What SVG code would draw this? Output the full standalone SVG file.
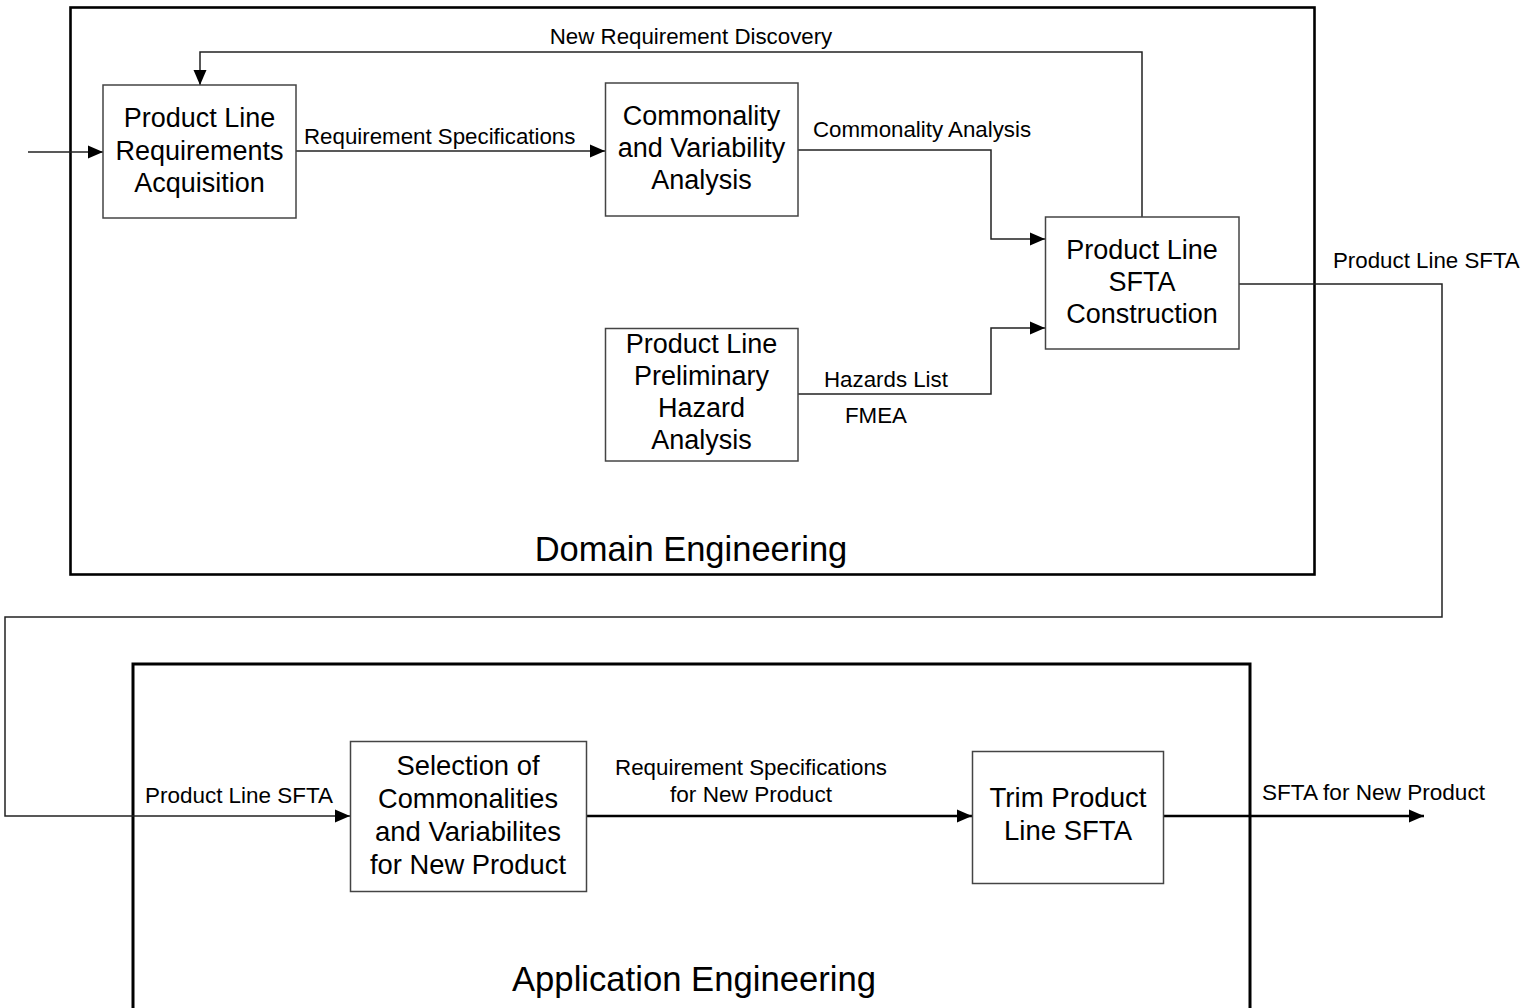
<svg xmlns="http://www.w3.org/2000/svg" width="1528" height="1008" viewBox="0 0 1528 1008">
  <style>
    text { font-family: "Liberation Sans", Arial, sans-serif; fill: #000; }
    .frame { fill: none; stroke: #000; stroke-width: 2.6; }
    .box { fill: #fff; stroke: #444; stroke-width: 1.5; }
    .node { font-size: 27px; text-anchor: middle; }
    .nodeB { font-size: 28px; text-anchor: middle; }
    .lbl { font-size: 22.3px; }
    .lblB { font-size: 22.5px; }
    .title { font-size: 34.5px; text-anchor: middle; }
    .wire { fill: none; stroke: #222; stroke-width: 1.5; }
    .wireB { fill: none; stroke: #000; stroke-width: 2.4; }
  </style>
  <defs>
    <marker id="arr" markerUnits="userSpaceOnUse" markerWidth="15" markerHeight="15" viewBox="0 0 15 15" refX="15" refY="7.5" orient="auto">
      <path d="M0,1 L15,7.5 L0,14 Z" fill="#000"/>
    </marker>
  </defs>

  <rect width="1528" height="1008" fill="#fff"/>

  <!-- lane frames -->
  <g id="domain-frame">
    <rect class="frame" x="70.5" y="7.5" width="1244" height="567"/>
    <text class="title" x="691" y="561">Domain Engineering</text>
  </g>
  <g id="application-frame">
    <rect class="frame" x="133" y="664" width="1117" height="360" style="stroke-width:3"/>
    <text class="title" x="694" y="991" textLength="364" lengthAdjust="spacingAndGlyphs">Application Engineering</text>
  </g>

  <!-- connectors -->
  <g id="connectors">
    <line class="wire" x1="28" y1="152" x2="103" y2="152" marker-end="url(#arr)"/>
    <line class="wire" x1="296" y1="151" x2="605" y2="151" marker-end="url(#arr)"/>
    <text class="lbl" x="304" y="144">Requirement Specifications</text>

    <polyline class="wire" points="1142,217 1142,52 200,52 200,85" marker-end="url(#arr)"/>
    <text class="lbl" x="691" y="44" text-anchor="middle">New Requirement Discovery</text>

    <polyline class="wire" points="798,150 991,150 991,239 1045,239" marker-end="url(#arr)"/>
    <text class="lbl" x="813" y="137">Commonality Analysis</text>

    <polyline class="wire" points="798,394 991,394 991,328 1045,328" marker-end="url(#arr)"/>
    <text class="lbl" x="824" y="387">Hazards List</text>
    <text class="lbl" x="845" y="423">FMEA</text>

    <polyline class="wire" points="1239,284 1442,284 1442,617 5,617 5,816 350,816" marker-end="url(#arr)"/>
    <text class="lbl" x="1333" y="268">Product Line SFTA</text>
    <text class="lblB" x="145" y="803" textLength="188" lengthAdjust="spacingAndGlyphs">Product Line SFTA</text>

    <line class="wireB" x1="586" y1="816" x2="972" y2="816" marker-end="url(#arr)"/>
    <text class="lblB" x="751" y="775" text-anchor="middle" textLength="272" lengthAdjust="spacingAndGlyphs">Requirement Specifications</text>
    <text class="lblB" x="751" y="802" text-anchor="middle" textLength="162" lengthAdjust="spacingAndGlyphs">for New Product</text>

    <line class="wireB" x1="1163" y1="816" x2="1424" y2="816" marker-end="url(#arr)"/>
    <text class="lblB" x="1262" y="800" textLength="223" lengthAdjust="spacingAndGlyphs">SFTA for New Product</text>
  </g>

  <!-- process nodes -->
  <g id="node-requirements-acquisition">
    <rect class="box" x="103" y="85" width="193" height="133"/>
    <text class="node" x="199.5" y="127">Product Line</text>
    <text class="node" x="199.5" y="159.5">Requirements</text>
    <text class="node" x="199.5" y="192">Acquisition</text>
  </g>
  <g id="node-commonality-variability">
    <rect class="box" x="605.5" y="83" width="192.5" height="133"/>
    <text class="node" x="701.5" y="125">Commonality</text>
    <text class="node" x="701.5" y="157">and Variability</text>
    <text class="node" x="701.5" y="189">Analysis</text>
  </g>
  <g id="node-sfta-construction">
    <rect class="box" x="1045.5" y="217" width="193.5" height="132"/>
    <text class="node" x="1142" y="259">Product Line</text>
    <text class="node" x="1142" y="291">SFTA</text>
    <text class="node" x="1142" y="323">Construction</text>
  </g>
  <g id="node-hazard-analysis">
    <rect class="box" x="605.5" y="328.5" width="192.5" height="132.5"/>
    <text class="node" x="701.5" y="353">Product Line</text>
    <text class="node" x="701.5" y="385">Preliminary</text>
    <text class="node" x="701.5" y="417">Hazard</text>
    <text class="node" x="701.5" y="449">Analysis</text>
  </g>
  <g id="node-selection">
    <rect class="box" x="350.5" y="741.5" width="236" height="150"/>
    <text class="nodeB" x="468" y="775" textLength="143" lengthAdjust="spacingAndGlyphs">Selection of</text>
    <text class="nodeB" x="468" y="808" textLength="180" lengthAdjust="spacingAndGlyphs">Commonalities</text>
    <text class="nodeB" x="468" y="841" textLength="186" lengthAdjust="spacingAndGlyphs">and Variabilites</text>
    <text class="nodeB" x="468" y="874" textLength="196" lengthAdjust="spacingAndGlyphs">for New Product</text>
  </g>
  <g id="node-trim">
    <rect class="box" x="972.5" y="751.5" width="191" height="132"/>
    <text class="nodeB" x="1068" y="807" textLength="157" lengthAdjust="spacingAndGlyphs">Trim Product</text>
    <text class="nodeB" x="1068" y="840" textLength="128" lengthAdjust="spacingAndGlyphs">Line SFTA</text>
  </g>
</svg>
